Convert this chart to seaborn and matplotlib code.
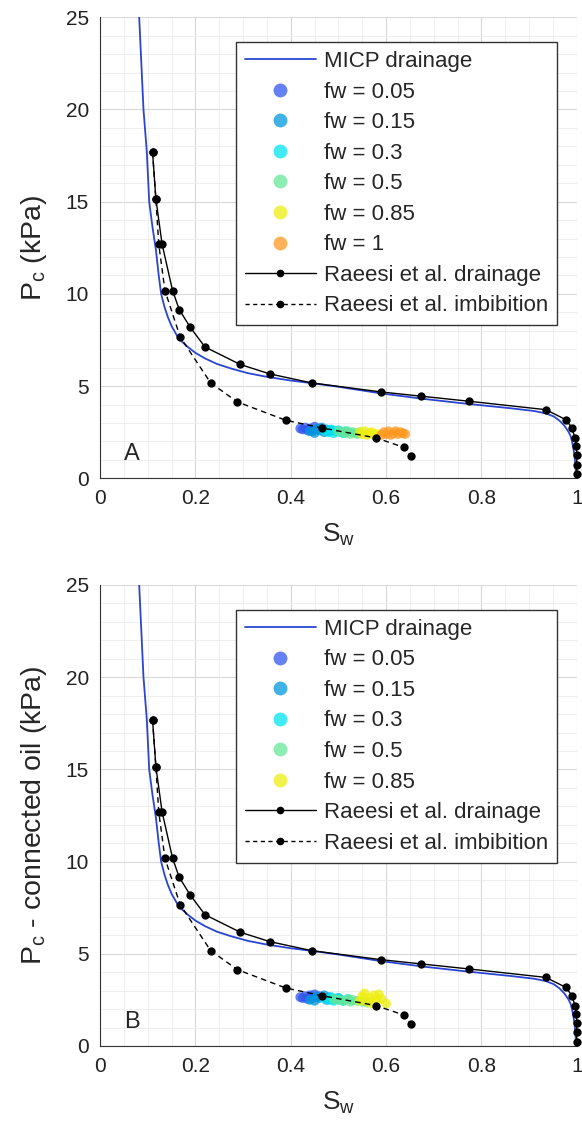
import numpy as np
import pandas as pd
import seaborn as sns
import matplotlib.pyplot as plt
from matplotlib.lines import Line2D
from matplotlib.ticker import MultipleLocator

sns.set_style('white')
plt.rcParams['font.family'] = ['Liberation Sans', 'DejaVu Sans']
plt.rcParams['mathtext.default'] = 'regular'

# MICP drainage curve
micp_sw = [0.082, 0.091, 0.098, 0.103, 0.110, 0.117, 0.123, 0.128, 0.135, 0.142, 0.150, 0.161,
           0.172, 0.185, 0.200, 0.220, 0.245, 0.275, 0.310, 0.350, 0.400, 0.447, 0.503,
           0.59, 0.68, 0.773, 0.86, 0.91, 0.935, 0.952, 0.964, 0.974, 0.982, 0.987, 0.990,
           0.993, 0.996, 0.999]
micp_pc = [25, 20, 17.7, 15, 13.6, 12.4, 11.0, 10.0, 9.3, 8.75, 8.25, 7.75,
           7.4, 7.1, 6.8, 6.5, 6.2, 5.95, 5.7, 5.5, 5.3, 5.15, 4.95,
           4.6, 4.3, 4.03, 3.8, 3.65, 3.52, 3.35, 3.12, 2.85, 2.55, 2.3, 2.0,
           1.6, 1.05, 0]

# Raeesi et al. drainage
dr_sw = [0.110, 0.117, 0.130, 0.152, 0.166, 0.189, 0.220, 0.294, 0.356, 0.444, 0.590, 0.674,
         0.773, 0.935, 0.977, 0.990, 0.996, 0.999, 1.0, 1.0, 1.0]
dr_pc = [17.7, 15.15, 12.7, 10.18, 9.15, 8.19, 7.12, 6.17, 5.66, 5.17, 4.68, 4.45,
         4.18, 3.72, 3.18, 2.73, 2.19, 1.74, 1.25, 0.74, 0.23]

# Raeesi et al. imbibition
im_sw = [0.110, 0.117, 0.123, 0.136, 0.168, 0.232, 0.288, 0.389, 0.465, 0.579, 0.637, 0.653]
im_pc = [17.7, 15.15, 12.7, 10.18, 7.66, 5.17, 4.14, 3.15, 2.73, 2.19, 1.68, 1.19]

# simulated points, panel A
a_sw = {
    0.05: [0.42, 0.425, 0.43, 0.435, 0.44, 0.445, 0.45, 0.455, 0.46],
    0.15: [0.44, 0.45, 0.455, 0.46, 0.465, 0.47, 0.475, 0.48, 0.485],
    0.3: [0.47, 0.48, 0.485, 0.49, 0.495, 0.5, 0.505, 0.51, 0.515],
    0.5: [0.5, 0.51, 0.515, 0.52, 0.525, 0.53, 0.535, 0.54, 0.545],
    0.85: [0.545, 0.55, 0.555, 0.56, 0.565, 0.57, 0.575, 0.58],
    1: [0.59, 0.595, 0.6, 0.605, 0.61, 0.615, 0.62, 0.625, 0.63, 0.635, 0.64],
}
a_pc = {
    0.05: [2.7, 2.65, 2.75, 2.6, 2.7, 2.55, 2.8, 2.65, 2.7],
    0.15: [2.55, 2.45, 2.7, 2.6, 2.75, 2.5, 2.65, 2.55, 2.6],
    0.3: [2.6, 2.5, 2.65, 2.45, 2.55, 2.6, 2.5, 2.45, 2.55],
    0.5: [2.55, 2.5, 2.45, 2.55, 2.4, 2.5, 2.45, 2.4, 2.5],
    0.85: [2.5, 2.4, 2.55, 2.35, 2.45, 2.5, 2.35, 2.4],
    1: [2.35, 2.5, 2.4, 2.55, 2.35, 2.45, 2.55, 2.4, 2.5, 2.45, 2.4],
}

# simulated points, panel B (connected oil)
b_sw = {
    0.05: [0.42, 0.425, 0.43, 0.435, 0.44, 0.445, 0.45, 0.455, 0.46],
    0.15: [0.44, 0.45, 0.455, 0.46, 0.47, 0.475, 0.48, 0.49, 0.5],
    0.3: [0.47, 0.48, 0.485, 0.49, 0.495, 0.5, 0.505, 0.51, 0.52],
    0.5: [0.49, 0.5, 0.51, 0.52, 0.525, 0.53, 0.54, 0.55, 0.56],
    0.85: [0.545, 0.55, 0.555, 0.56, 0.565, 0.57, 0.575, 0.58, 0.585, 0.59, 0.6],
}
b_pc = {
    0.05: [2.65, 2.6, 2.7, 2.55, 2.75, 2.6, 2.8, 2.65, 2.7],
    0.15: [2.5, 2.45, 2.7, 2.6, 2.75, 2.5, 2.65, 2.55, 2.6],
    0.3: [2.6, 2.5, 2.65, 2.45, 2.55, 2.6, 2.5, 2.45, 2.55],
    0.5: [2.55, 2.5, 2.45, 2.55, 2.4, 2.5, 2.45, 2.4, 2.35],
    0.85: [2.45, 2.7, 2.85, 2.4, 2.6, 2.3, 2.75, 2.5, 2.8, 2.55, 2.3],
}

fw_colors = {0.05: '#3355ee', 0.15: '#0099dd', 0.3: '#00e5f0',
             0.5: '#66e699', 0.85: '#eeee11', 1: '#ff9922'}
micp_color = '#2a45d0'


def to_frame(sw, pc):
    rows = []
    for fw in sw:
        for x, y in zip(sw[fw], pc[fw]):
            rows.append({'fw': fw, 'sw': x, 'pc': y})
    return pd.DataFrame(rows)


def draw_panel(ax, sw, pc, ylabel, letter):
    pts = to_frame(sw, pc)
    sns.scatterplot(data=pts, x='sw', y='pc', hue='fw', palette=fw_colors, s=50,
                    alpha=0.75, edgecolor='none', legend=False, ax=ax, zorder=1)
    sns.lineplot(x=micp_sw, y=micp_pc, estimator=None, sort=False, color=micp_color,
                 lw=1.3, ax=ax, zorder=3)
    sns.lineplot(x=dr_sw, y=dr_pc, estimator=None, sort=False, color='k', lw=1,
                 marker='o', markersize=6, markeredgewidth=0, ax=ax, zorder=4, clip_on=False)
    sns.lineplot(x=im_sw, y=im_pc, estimator=None, sort=False, color='k', lw=1,
                 linestyle=(0, (4, 3)), marker='o', markersize=6, markeredgewidth=0,
                 ax=ax, zorder=4)

    ax.set_xlim(0, 1)
    ax.set_ylim(0, 25)
    ax.set_xticks([0, 0.2, 0.4, 0.6, 0.8, 1])
    ax.set_xticklabels(['0', '0.2', '0.4', '0.6', '0.8', '1'])
    ax.set_yticks([0, 5, 10, 15, 20, 25])
    ax.xaxis.set_minor_locator(MultipleLocator(0.05))
    ax.yaxis.set_minor_locator(MultipleLocator(1))
    ax.grid(which='major', color='#d9d9d9', lw=0.8)
    ax.grid(which='minor', color='#ececec', lw=0.6)
    ax.set_axisbelow(True)
    ax.tick_params(which='major', direction='in', length=5, width=0.8, color='#333333',
                   labelsize=15, pad=8, labelcolor='#222222')
    ax.tick_params(which='minor', length=0)
    for side in ['top', 'right']:
        ax.spines[side].set_visible(False)
    for side in ['left', 'bottom']:
        ax.spines[side].set_color('#333333')
        ax.spines[side].set_linewidth(0.8)

    ax.set_xlabel(r'S$_{w}$', fontsize=19, labelpad=10)
    ax.set_ylabel(ylabel, fontsize=20.5, labelpad=12)
    ax.text(0.066, 1.3, letter, fontsize=17, ha='center', va='center')

    handles = [Line2D([], [], color=micp_color, lw=1.3, label='MICP drainage')]
    for fw in sw:
        handles.append(Line2D([], [], ls='none', marker='o', markersize=10, alpha=0.75,
                              markerfacecolor=fw_colors[fw], markeredgecolor='none',
                              label=f'fw = {fw}'))
    handles.append(Line2D([], [], color='k', lw=1, marker='o', markersize=4.5,
                          label='Raeesi et al. drainage'))
    handles.append(Line2D([], [], color='k', lw=1, ls=(0, (3, 2.5)), marker='o',
                          markersize=4.5, label='Raeesi et al. imbibition'))
    leg = ax.legend(handles=handles, loc='upper left', bbox_to_anchor=(0.285, 0.946),
                    fontsize=16, frameon=True, fancybox=False, framealpha=1,
                    handlelength=3.2, labelspacing=0.43, borderpad=0.4, handletextpad=0.35,
                    borderaxespad=0)
    leg.get_frame().set_edgecolor('#333333')
    leg.get_frame().set_linewidth(1)


fig = plt.figure(figsize=(5.82, 11.28), dpi=100)
ax_a = fig.add_axes([0.172, 0.576, 0.819, 0.4087])
ax_b = fig.add_axes([0.172, 0.0727, 0.819, 0.4087])

draw_panel(ax_a, a_sw, a_pc, r'P$_{c}$ (kPa)', 'A')
draw_panel(ax_b, b_sw, b_pc, r'P$_{c}$ - connected oil (kPa)', 'B')

fig.savefig('out.png', dpi=100)
